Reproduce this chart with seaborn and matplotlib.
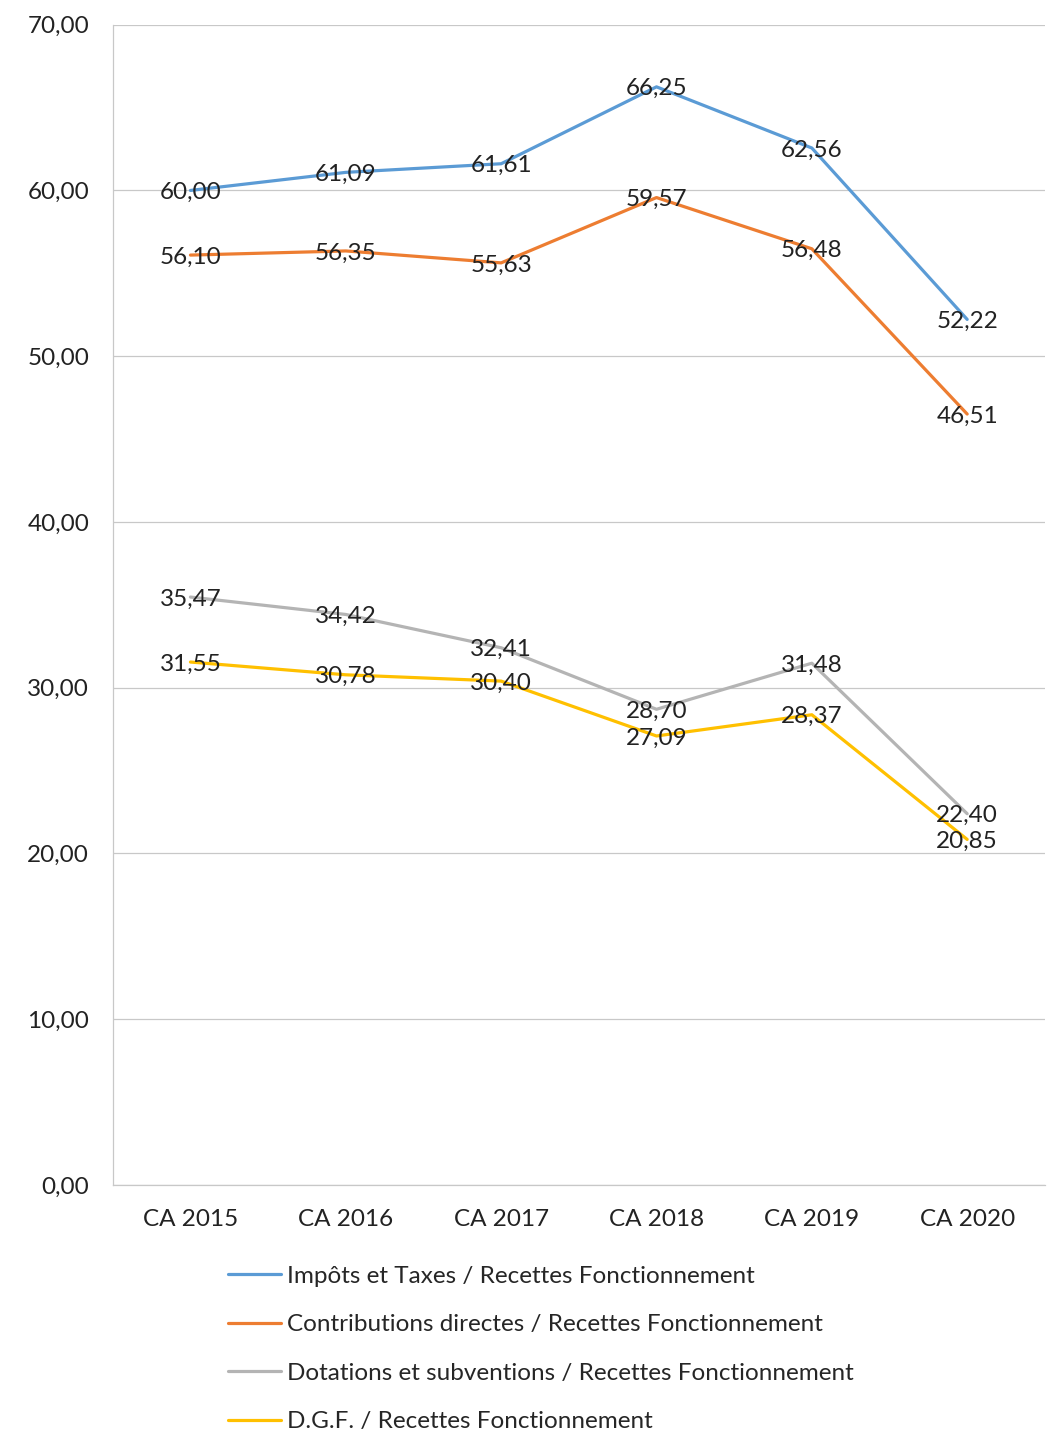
import pandas as pd
import numpy as np
import matplotlib.pyplot as plt
import seaborn as sns
from matplotlib.ticker import FixedLocator

# Données
annees = ['CA 2015', 'CA 2016', 'CA 2017', 'CA 2018', 'CA 2019', 'CA 2020']
impots_taxes = [60.00, 61.09, 61.61, 66.25, 62.56, 52.22]
contrib_directes = [56.10, 56.35, 55.63, 59.57, 56.48, 46.51]
dotations = [35.47, 34.42, 32.41, 28.70, 31.48, 22.40]
dgf = [31.55, 30.78, 30.40, 27.09, 28.37, 20.85]

series = ['Impôts et Taxes / Recettes Fonctionnement',
          'Contributions directes / Recettes Fonctionnement',
          'Dotations et subventions / Recettes Fonctionnement',
          'D.G.F. / Recettes Fonctionnement']
couleurs = ['#5B9BD5', '#ED7D31', '#B4B4B4', '#FFC000']
valeurs = [impots_taxes, contrib_directes, dotations, dgf]

df = pd.DataFrame({
    'Année': annees * 4,
    'x': list(range(len(annees))) * 4,
    'Ratio': sum(valeurs, []),
    'Série': sum([[s] * len(annees) for s in series], []),
})

sns.set_style('white')
plt.rcParams['font.family'] = ['Lato', 'DejaVu Sans']
taille = 17.5

fig = plt.figure(figsize=(10.64, 14.51), dpi=100)
ax = fig.add_axes([0.106, 0.1833, 0.876, 0.7997])

sns.lineplot(data=df, x='x', y='Ratio', hue='Série', palette=couleurs,
             linewidth=2.3, ax=ax, legend=False)

fmt = lambda v: f'{v:.2f}'.replace('.', ',')
for vals in valeurs:
    for i, v in enumerate(vals):
        ax.text(i, v, fmt(v), ha='center', va='center_baseline',
                fontsize=taille, color='#222222')

ax.set_xlim(-0.5, 5.5)
ax.set_ylim(0, 70)
ax.set_yticks(np.arange(0, 71, 10))
ax.set_yticklabels([fmt(v) for v in np.arange(0, 71, 10)], fontsize=taille, color='#222222')
ax.set_xticks(range(len(annees)))
ax.set_xticklabels(annees, fontsize=taille, color='#222222')
ax.xaxis.set_minor_locator(FixedLocator(np.arange(-0.5, 5.6, 1)))
ax.tick_params(axis='x', which='major', length=0, pad=17)
ax.tick_params(axis='x', which='minor', length=5, color='#BBBBBB', width=0.8)
ax.tick_params(axis='y', length=4, color='#BBBBBB', width=0.8, pad=13)
ax.set_xlabel('')
ax.set_ylabel('')
ax.yaxis.grid(True, color='#C8C8C8', linewidth=0.9)
for s in ['top', 'right']:
    ax.spines[s].set_visible(False)
for s in ['left', 'bottom']:
    ax.spines[s].set_color('#C8C8C8')
    ax.spines[s].set_linewidth(0.9)

handles = [plt.Line2D([], [], color=c, linewidth=2.3) for c in couleurs]
fig.legend(handles, series, loc='upper left', bbox_to_anchor=(0.205, 0.1344),
           frameon=False, fontsize=taille, handlelength=2.2, handletextpad=0.25,
           labelspacing=1.13, borderaxespad=0)

fig.savefig('out.png', dpi=100)
